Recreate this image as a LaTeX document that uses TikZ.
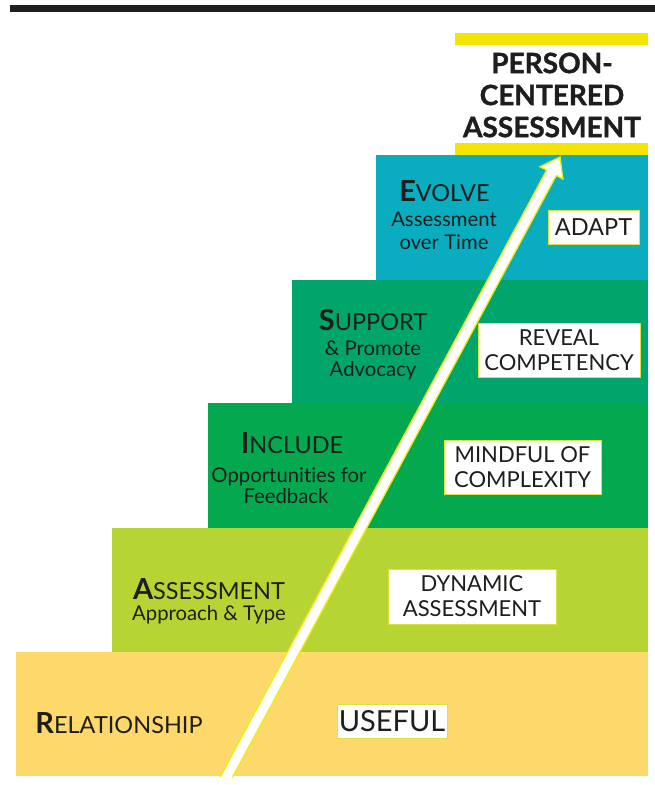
\documentclass[tikz,border=0pt]{standalone}
\usepackage{fontspec}
\setmainfont{Lato}[Ligatures={NoCommon}]
\newfontfamily\titlefont{Lato}[BoldFeatures={FakeBold=1.2}]
\usetikzlibrary{calc}

\definecolor{ink}{HTML}{1E1E1C}
\definecolor{stepTeal}{HTML}{0AADBF}
\definecolor{stepDeepGreen}{HTML}{00A56C}
\definecolor{stepGreen}{HTML}{04A94F}
\definecolor{stepLime}{HTML}{B6D433}
\definecolor{stepSand}{HTML}{FDD86B}
\definecolor{barYellow}{HTML}{F3E500}
\definecolor{arrowEdge}{HTML}{EEF000}
\definecolor{tagEdge}{HTML}{DDE23C}

% big bold initial followed by the rest of the word
\newcommand\leadcap[2]{{\fontsize{29}{30}\selectfont\bfseries #1}#2}

\begin{document}
\begin{tikzpicture}[x=1pt,y=-1pt,
  steplabel/.style={anchor=base, inner sep=0pt, text=ink,
    font=\fontsize{23.5}{26}\selectfont},
  subline/.style={anchor=base, inner sep=0pt, text=ink,
    font=\fontsize{20.3}{22}\selectfont},
  tagbox/.style={draw=tagEdge, line width=1pt, fill=white, inner sep=0pt,
    align=center, text=ink, font=\fontsize{22}{25}\selectfont},
  headline/.style={align=center, inner sep=0pt, text=ink,
    font=\titlefont\fontsize{28}{32}\selectfont\bfseries},
]
\useasboundingbox (0,0) rectangle (655,785);
\fill[white] (0,0) rectangle (655,785);

% top rule and title bars
\fill[black!88] (10,5) rectangle (655,12);
\fill[barYellow] (455,33) rectangle (648,45);
\fill[barYellow] (455,143) rectangle (648,155);
\node[headline] (title) at (552,95) {PERSON-\\CENTERED\\ASSESSMENT};

% staircase
\fill[stepSand]      (16,652)  rectangle (648,776);
\fill[stepLime]      (112,528) rectangle (648,652);
\fill[stepGreen]     (208,403) rectangle (648,528);
\fill[stepDeepGreen] (292,280) rectangle (648,403);
\fill[stepTeal]      (376,155) rectangle (648,280);

% rising arrow
\coordinate (arrowBase) at (214,800);
\coordinate (arrowTip) at (560,157);
\coordinate (headBase) at ($(arrowTip)!18pt!(arrowBase)$);
\begin{scope}
  \clip (0,0) rectangle (655,776);
  \draw[fill=white, draw=arrowEdge, line width=1.3pt, line join=miter]
    ($(arrowBase)!5.5pt!90:(arrowTip)$)
    -- ($(headBase)!5.5pt!90:(arrowTip)$)
    -- ($(headBase)!13pt!90:(arrowTip)$)
    -- (arrowTip)
    -- ($(headBase)!13pt!-90:(arrowTip)$)
    -- ($(headBase)!5.5pt!-90:(arrowTip)$)
    -- ($(arrowBase)!5.5pt!-90:(arrowTip)$)
    -- cycle;
\end{scope}

% step labels
\node[steplabel] (evolveHead) at (444.5,201) {\leadcap{E}{VOLVE}};
\node[subline] (evolveSubA) at (444,226) {Assessment};
\node[subline] (evolveSubB) at (444,249) {over Time};

\node[steplabel] (supportHead) at (373,330) {\leadcap{S}{UPPORT}};
\node[subline] (supportSubA) at (373,355) {\& Promote};
\node[subline] (supportSubB) at (373,376) {Advocacy};

\node[steplabel] (includeHead) at (292,453) {\leadcap{I}{NCLUDE}};
\node[subline] (includeSubA) at (289,482) {Opportunities for};
\node[subline] (includeSubB) at (286,503) {Feedback};

\node[steplabel] (assessHead) at (209,599) {\leadcap{A}{SSESSMENT}};
\node[subline] (assessSub) at (209,620) {Approach \& Type};

\node[steplabel] (relationHead) at (119,733) {\leadcap{R}{ELATIONSHIP}};

% outcome tags
\node[tagbox, minimum width=91pt, minimum height=34pt,
  font=\fontsize{23.5}{26}\selectfont] (adapt) at (593.5,227) {ADAPT};
\node[tagbox, minimum width=162pt, minimum height=54pt] (reveal)
  at (559,350) {REVEAL\\COMPETENCY};
\node[tagbox, minimum width=157pt, minimum height=54pt] (mindful)
  at (522.5,467) {MINDFUL OF\\COMPLEXITY};
\node[tagbox, minimum width=168pt, minimum height=55pt] (dynamic)
  at (472,596.5) {DYNAMIC\\ASSESSMENT};
\node[tagbox, minimum width=110pt, minimum height=34pt,
  font=\fontsize{29}{30}\selectfont] (useful) at (392,721) {USEFUL};
\end{tikzpicture}
\end{document}
